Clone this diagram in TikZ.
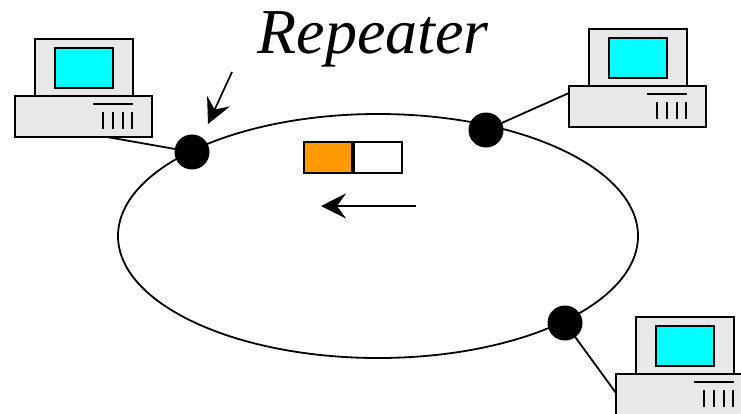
\documentclass[tikz,border=0pt]{standalone}
\usepackage{fontspec}
\setmainfont{Liberation Serif}
\usetikzlibrary{arrows.meta}
\definecolor{casegray}{HTML}{E8E8E8}
\definecolor{screencyan}{HTML}{00FFFF}
\definecolor{packetorange}{HTML}{FF9900}
\tikzset{
  casebox/.style={draw=black, fill=casegray, line width=2.2pt},
  screenbox/.style={draw=black, fill=screencyan, line width=2.2pt},
  ventline/.style={line width=2.2pt},
  ringline/.style={line width=1.8pt},
  wire/.style={line width=1.8pt},
  repeaterdot/.style={circle, fill=black, inner sep=0pt, minimum size=35pt},
  bigarrow/.style={line width=1.7pt, -{Stealth[length=25pt, width=25pt, inset=9pt]}},
  cellbox/.style={draw=black, line width=2.2pt, minimum width=48pt, minimum height=31pt, inner sep=0pt}
}
\newcommand{\drawcomputer}[3]{%
  \begin{scope}[shift={(#1,#2)}]
    \draw[casebox] (-20,57) rectangle (117,98);
    \draw[casebox] (0,0) rectangle (98,57);
    \draw[screenbox] (20,9) rectangle (78,49);
    \draw[ventline] (58,65) -- (98,65);
    \foreach \vx in {68,78,88,97} {\draw[ventline] (\vx,73) -- (\vx,90);}
    \coordinate (#3-bottom) at (72,98);
    \coordinate (#3-left) at (-20,64);
    \coordinate (#3-leftlow) at (-20,76);
  \end{scope}}
\begin{document}
\begin{tikzpicture}[x=1pt,y=-1pt]
\useasboundingbox (0,0) rectangle (741,413);
\clip (0,0) rectangle (741,413);
\fill[white] (0,0) rectangle (741,413);
% ring
\draw[ringline] (378,236) ellipse [x radius=260pt, y radius=122pt];
% computers
\drawcomputer{35}{39}{pcA}
\drawcomputer{589}{29}{pcB}
\drawcomputer{636}{317}{pcC}
% repeaters
\node[repeaterdot] (rA) at (192,152) {};
\node[repeaterdot] (rB) at (486,130) {};
\node[repeaterdot] (rC) at (565,323) {};
% wires
\draw[wire] (pcA-bottom) -- (rA.center);
\draw[wire] (pcB-left) -- (rB.center);
\draw[wire] (rC.center) -- (pcC-leftlow);
% packet
\node[cellbox, fill=packetorange] (cell1) at (328,157.5) {};
\node[cellbox, fill=white, anchor=west] (cell2) at (cell1.east) {};
% direction arrow
\coordinate (dirstart) at (416,206);
\coordinate (dirend) at (321,206);
\draw[bigarrow] (dirstart) -- (dirend);
% label
\node[font=\itshape\fontsize{64}{64}\selectfont, anchor=base, inner sep=0pt] (label) at (373,53) {Repeater};
\coordinate (labarrowstart) at (232,72);
\coordinate (labarrowend) at (208,124);
\draw[bigarrow] (labarrowstart) -- (labarrowend);
\end{tikzpicture}
\end{document}
